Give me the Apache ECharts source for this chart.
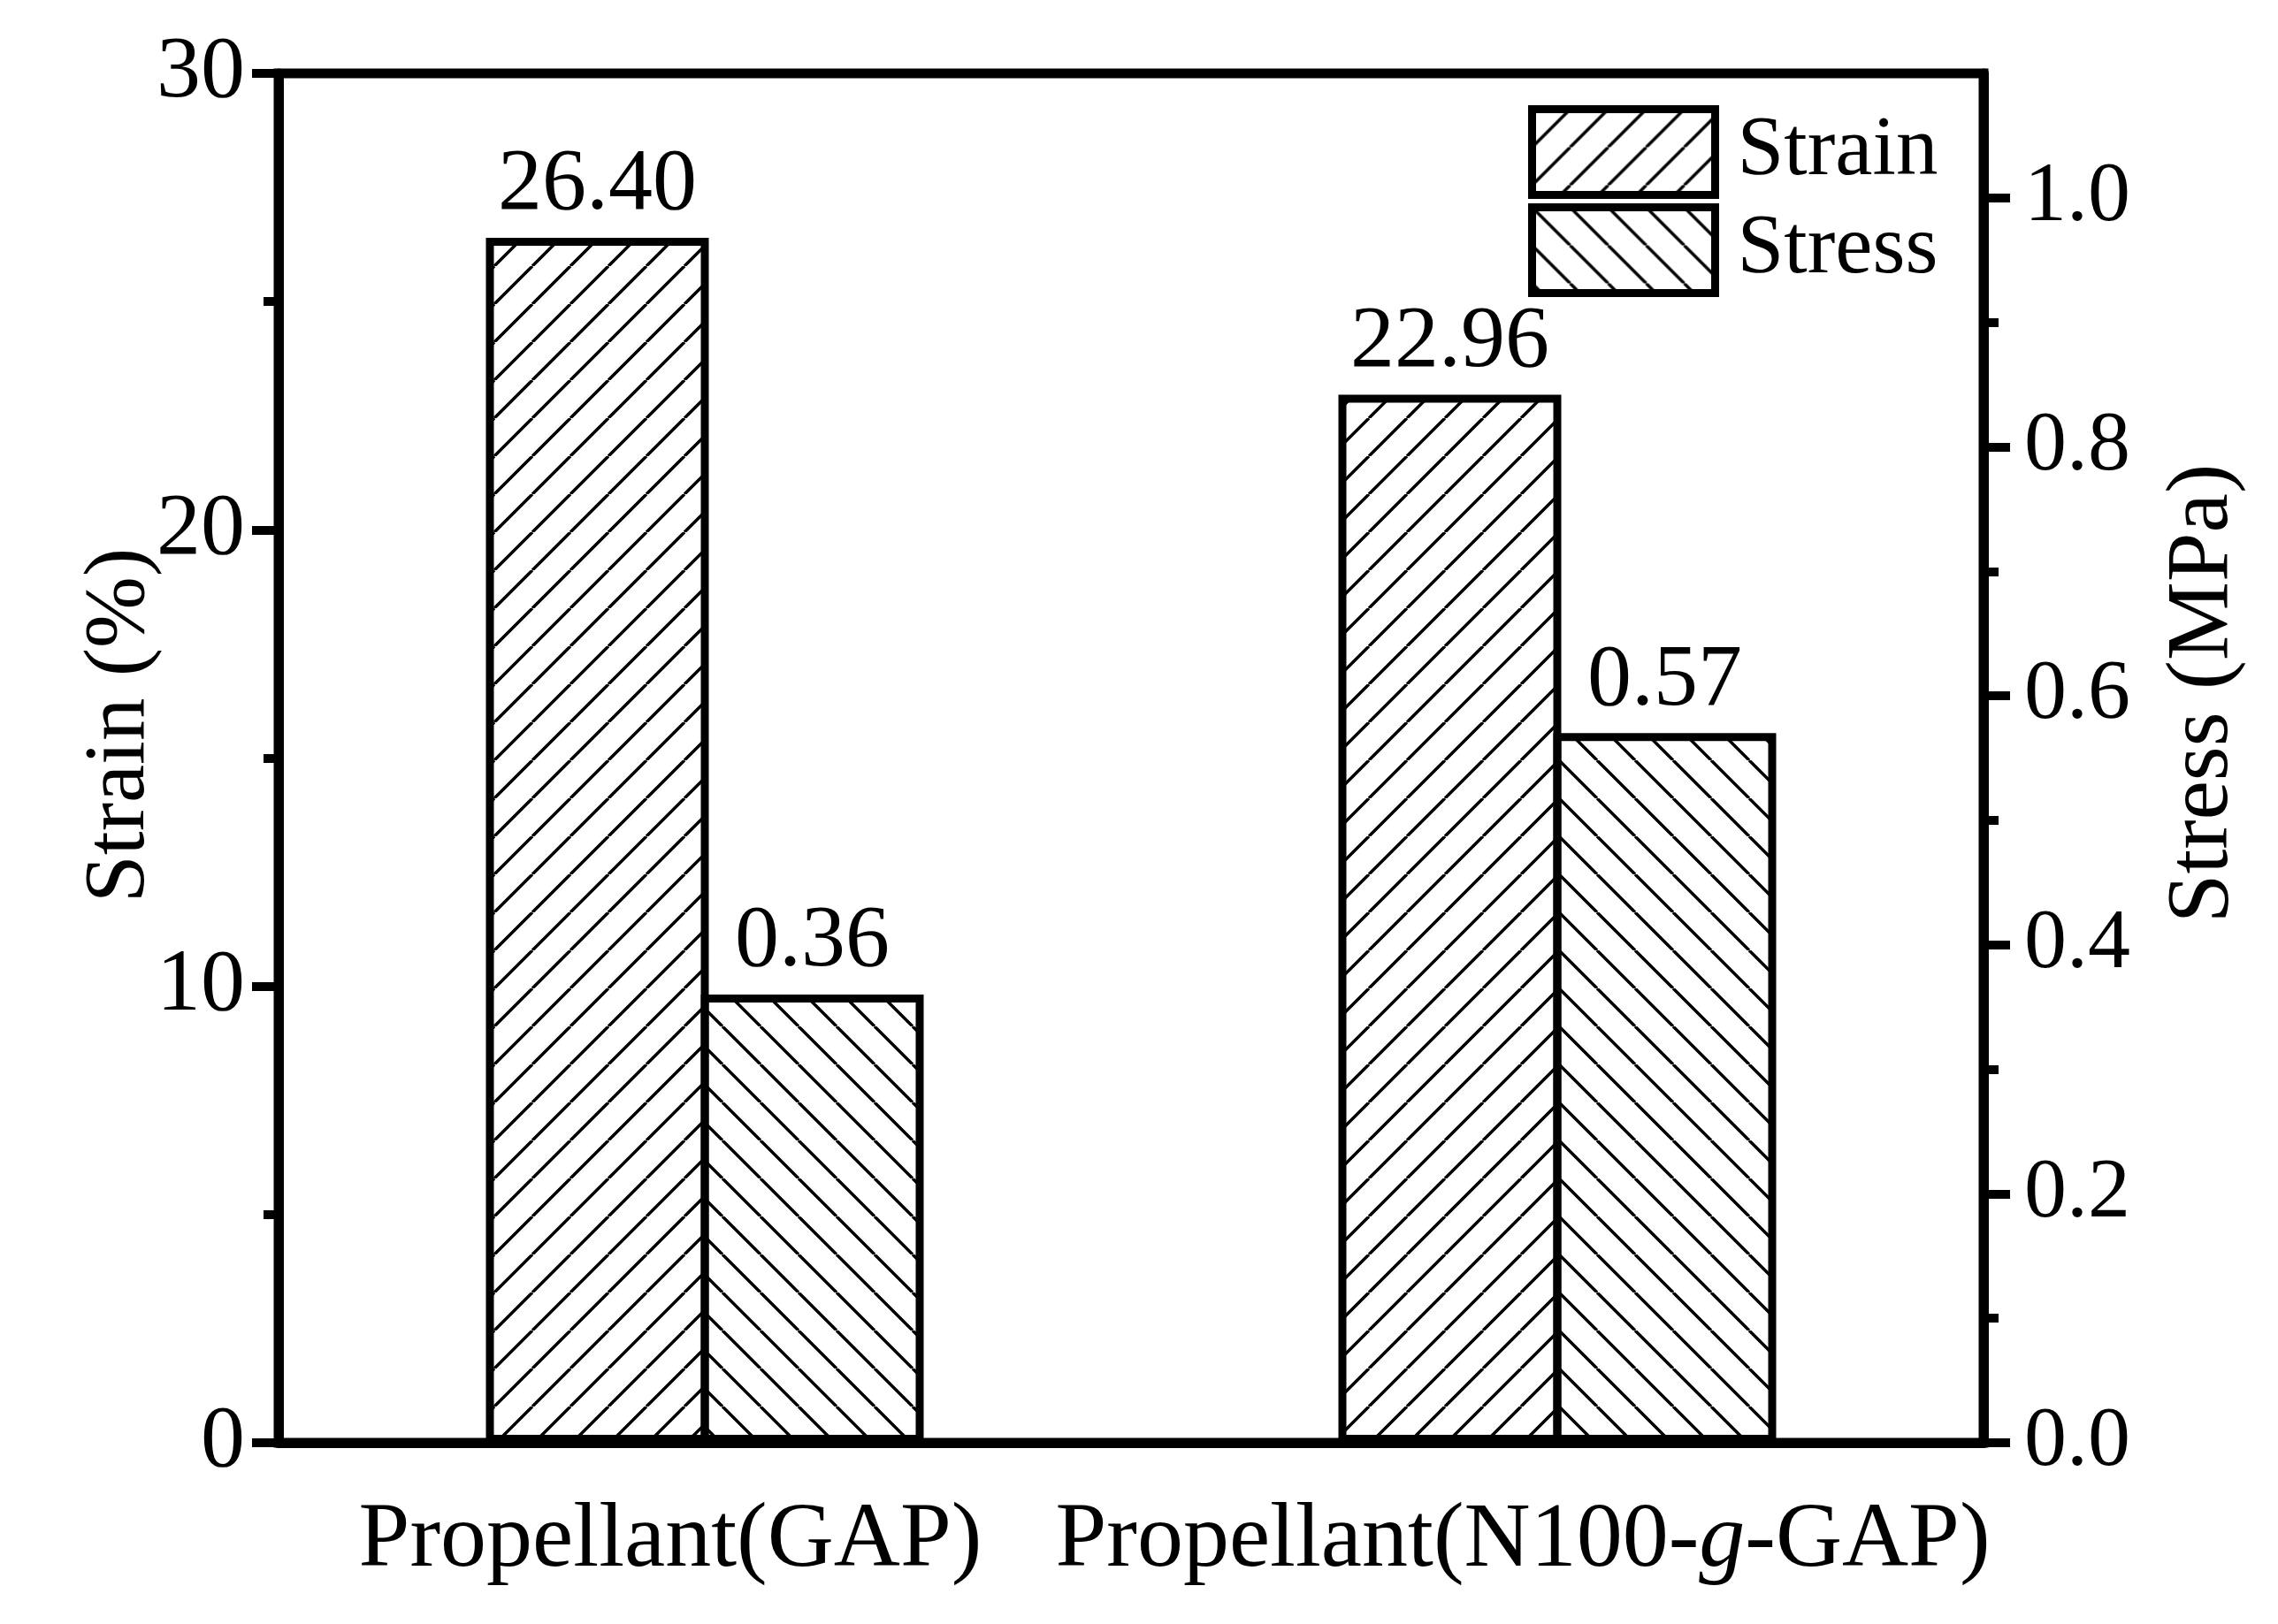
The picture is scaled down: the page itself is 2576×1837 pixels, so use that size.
<!DOCTYPE html>
<html>
<head>
<meta charset="utf-8">
<script src="https://cdn.jsdelivr.net/npm/echarts@6/dist/echarts.min.js"></script>
<style>
html,body{margin:0;padding:0;background:#fff;}
#chart{width:2576px;height:1837px;}
</style>
</head>
<body>
<div id="chart"></div>
<script>
// ---- data ----
const categories = ['Propellant(GAP)', 'Propellant(N100-g-GAP)'];
const strainValues = [26.40, 22.96];   // %
const stressValues = [0.36, 0.57];     // MPa
const strainTicks = [0, 10, 20, 30];
const stressTicks = [0, 0.2, 0.4, 0.6, 0.8, 1.0];
const stressMinorTicks = [0.1, 0.3, 0.5, 0.7, 0.9];

// ---- hatch patterns ----
function hatch(dir) {
  const s = 43;
  const c = document.createElement('canvas');
  c.width = s; c.height = s;
  const g = c.getContext('2d');
  g.strokeStyle = '#000';
  g.lineWidth = 3.5;
  g.beginPath();
  [-1, 0, 1].forEach(k => {
    if (dir === '/') { g.moveTo(k * s, s); g.lineTo(k * s + s, 0); }
    else { g.moveTo(k * s, 0); g.lineTo(k * s + s, s); }
  });
  g.stroke();
  return { image: c, repeat: 'repeat' };
}
const strainFill = hatch('/');
const stressFill = hatch('\\');

const FONT = 'Liberation Serif';
const BORDER = 9;
const chart = echarts.init(document.getElementById('chart'));
chart.setOption({
  backgroundColor: '#fff',
  animation: false,
  grid: {
    left: 315, top: 83, width: 1928, height: 1549,
    show: true, borderColor: '#000', borderWidth: 11, backgroundColor: 'transparent',
    outerBoundsMode: 'none', containLabel: false
  },
  legend: {
    orient: 'vertical', left: 1728, top: 119, padding: 0,
    itemWidth: 207, itemHeight: 97, itemGap: 5,
    textStyle: { fontFamily: FONT, fontSize: 95, lineHeight: 90, color: '#000', padding: [0, 0, 0, 20] },
    data: [
      { name: 'Strain', icon: 'rect', itemStyle: { color: strainFill, borderColor: '#000', borderWidth: BORDER } },
      { name: 'Stress', icon: 'rect', itemStyle: { color: stressFill, borderColor: '#000', borderWidth: BORDER } }
    ]
  },
  xAxis: {
    type: 'category',
    data: categories,
    boundaryGap: true,
    axisLine: { show: true, lineStyle: { color: '#000', width: 11 } },
    axisTick: { show: false },
    splitLine: { show: false },
    axisLabel: {
      interval: 0, margin: 60, fontFamily: FONT, fontSize: 104, color: '#000',
      padding: [0, 78, 0, 0],
      formatter: v => v.replace('-g-', '-{i|g}-'),
      rich: { i: { fontFamily: FONT, fontSize: 104, fontStyle: 'italic', color: '#000' } }
    }
  },
  yAxis: [
    {
      type: 'value', position: 'left', min: 0, max: 30, interval: 10,
      name: 'Strain (%)', nameLocation: 'middle', nameGap: 130, nameRotate: 90,
      nameMoveOverlap: false,
      nameTextStyle: { fontFamily: FONT, fontSize: 97, color: '#000', padding: [0, 0, 0, 74] },
      axisLine: { show: true, lineStyle: { color: '#000', width: 11 } },
      axisTick: { show: true, inside: false, length: 30, lineStyle: { color: '#000', width: 10 },
                  customValues: strainTicks },
      minorTick: { show: true, splitNumber: 2, length: 17, lineStyle: { color: '#000', width: 10 } },
      splitLine: { show: false }, minorSplitLine: { show: false },
      axisLabel: { margin: 38, fontFamily: FONT, fontSize: 100, color: '#000',
                   padding: [0, 0, 48, 0], customValues: strainTicks }
    },
    {
      type: 'value', position: 'right', min: 0, max: 1.1, interval: 0.2,
      name: 'Stress (MPa)', nameLocation: 'middle', nameGap: 199, nameRotate: 90,
      nameMoveOverlap: false,
      nameTextStyle: { fontFamily: FONT, fontSize: 100, color: '#000', padding: [0, 0, 0, 146] },
      axisLine: { show: true, lineStyle: { color: '#000', width: 11 } },
      axisTick: { show: true, inside: false, length: 30, lineStyle: { color: '#000', width: 10 },
                  customValues: stressTicks },
      splitLine: { show: false },
      axisLabel: { margin: 46, fontFamily: FONT, fontSize: 96, color: '#000',
                   customValues: stressTicks, formatter: v => Number(v).toFixed(1) }
    },
    {
      type: 'value', position: 'right', min: 0, max: 1.1, interval: 0.1,
      axisLine: { show: false },
      axisTick: { show: true, inside: false, length: 17, lineStyle: { color: '#000', width: 10 },
                  customValues: stressMinorTicks },
      axisLabel: { show: false },
      splitLine: { show: false }
    }
  ],
  series: [
    {
      name: 'Strain', type: 'bar', yAxisIndex: 0, data: strainValues,
      barWidth: 252, barGap: (-BORDER / 252 * 100) + '%',
      itemStyle: { color: strainFill, borderColor: '#000', borderWidth: BORDER },
      label: { show: true, position: 'top', distance: 9, fontFamily: FONT, fontSize: 100, color: '#000',
               formatter: p => p.value.toFixed(2) }
    },
    {
      name: 'Stress', type: 'bar', yAxisIndex: 1, data: stressValues,
      barWidth: 252, barGap: (-BORDER / 252 * 100) + '%',
      itemStyle: { color: stressFill, borderColor: '#000', borderWidth: BORDER },
      label: { show: true, position: 'top', distance: 9, fontFamily: FONT, fontSize: 100, color: '#000',
               formatter: p => p.value.toFixed(2) }
    }
  ]
});
</script>
</body>
</html>
